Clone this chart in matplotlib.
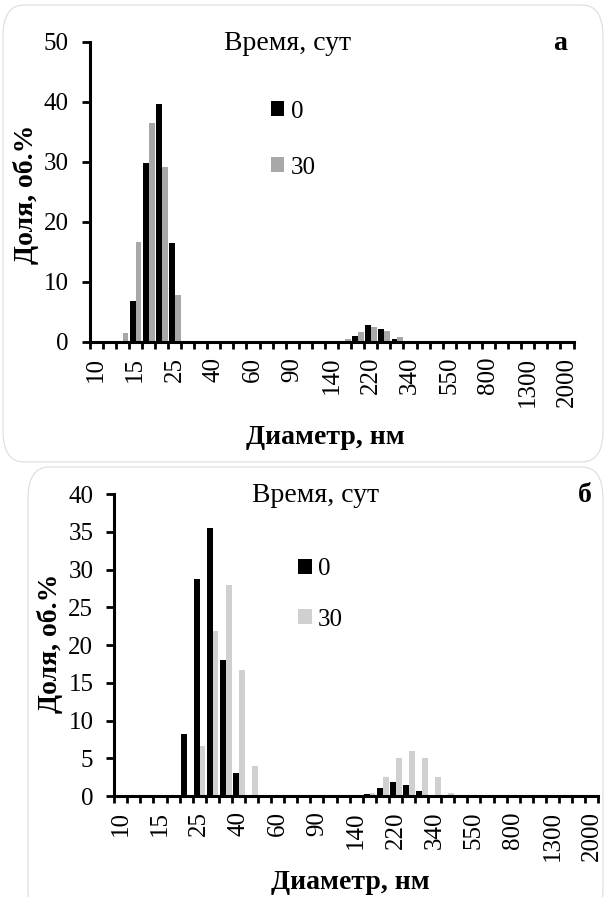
import numpy as np
import matplotlib.pyplot as plt
from matplotlib.patches import FancyBboxPatch

plt.rcParams['font.family'] = ['Liberation Serif', 'DejaVu Serif']

# size bins, nm (Zetasizer classes 10..2000), labels shown every 3rd bin
bins = ['10', '12', '14', '15', '18', '21', '25', '28', '33', '40', '44', '51',
        '60', '68', '79', '90', '106', '122', '140', '164', '190', '220', '255',
        '295', '340', '396', '459', '550', '615', '712', '800', '955', '1106',
        '1300', '1484', '1718', '2000']
n = len(bins)

# panel a, volume fraction %, days 0 and 30
a_day0 = {3: 6.7, 4: 29.8, 5: 39.6, 6: 16.4, 20: 1.0, 21: 2.7, 22: 2.1, 23: 0.4}
a_day30 = {2: 1.5, 3: 16.6, 4: 36.4, 5: 29.2, 6: 7.7, 19: 0.4, 20: 1.6,
           21: 2.5, 22: 1.8, 23: 0.8}
# panel b
b_day0 = {5: 8.2, 6: 28.8, 7: 35.5, 8: 18.0, 9: 3.0, 19: 0.3, 20: 1.1,
          21: 1.8, 22: 1.5, 23: 0.6}
b_day30 = {6: 6.6, 7: 21.8, 8: 27.9, 9: 16.7, 10: 4.0, 19: 0.4, 20: 2.5,
           21: 5.0, 22: 6.0, 23: 5.0, 24: 2.5, 25: 0.4}

series_names = ['0', '30']


def to_arr(d):
    v = np.zeros(n)
    for k, val in d.items():
        v[k] = val
    return v


fig = plt.figure(figsize=(6.05, 8.97), dpi=100)

# rounded panel frames (pixels: x0, y_top, x1, y_bottom)
for x0, yt, x1, yb in [(3, 5, 603, 462), (28, 467, 603, 920)]:
    fig.patches.append(FancyBboxPatch((x0 / 605, 1 - yb / 897), (x1 - x0) / 605,
                                      (yb - yt) / 897,
                                      boxstyle='round,pad=0,rounding_size=0.035',
                                      transform=fig.transFigure, fill=False,
                                      edgecolor='#dcdcdc', linewidth=0.8))


def panel(rect, d0, d30, gray, ymax, ystep, letter, title_x, leg_x, leg_y,
          lspace, ylab_x, ylab_y, xlab_y):
    ax = fig.add_axes(rect)
    x = np.arange(n)
    w = 0.44
    ax.bar(x - w / 2 + 0.03, to_arr(d0), w, color='black', label=series_names[0])
    ax.bar(x + w / 2 + 0.03, to_arr(d30), w, color=gray, label=series_names[1])
    ax.set_xlim(-0.5, n - 0.5)
    ax.set_ylim(0, ymax)
    ax.set_yticks(np.arange(0, ymax + 1, ystep))
    ax.set_xticks(x[::3])
    ax.set_xticklabels(bins[::3], rotation=90)
    ax.set_xticks(np.arange(-0.5, n, 1), minor=True)
    ax.tick_params(axis='x', which='major', length=0, pad=11, labelsize=18)
    ax.tick_params(axis='x', which='minor', length=5, width=2, direction='out')
    ax.tick_params(axis='y', length=6, width=2, direction='out', labelsize=18, pad=9)
    for s in ['top', 'right']:
        ax.spines[s].set_visible(False)
    for s in ['left', 'bottom']:
        ax.spines[s].set_linewidth(2.2)
    ax.set_xlabel('Диаметр, нм', fontsize=20, fontweight='bold')
    ax.set_ylabel('Доля, об.%', fontsize=20, fontweight='bold')
    ax.xaxis.set_label_coords(0.487, xlab_y)
    ax.yaxis.set_label_coords(ylab_x, ylab_y)
    ax.text(title_x, 0.995, 'Время, сут', transform=ax.transAxes, fontsize=20,
            ha='center', va='center')
    ax.legend(loc='center left', bbox_to_anchor=(leg_x, leg_y), frameon=False,
              fontsize=18, handlelength=0.55, handleheight=0.55,
              handletextpad=0.25, labelspacing=lspace, borderpad=0,
              borderaxespad=0)
    ax.text(0.972, 0.995, letter, transform=ax.transAxes, fontsize=20,
            fontweight='bold', ha='center', va='center')
    return ax


panel([89.5 / 605, (897 - 341.5) / 897, 484 / 605, 299.5 / 897],
      a_day0, a_day30, '#a8a8a8', 50, 10, 'а', 0.41, 0.374, 0.674, 1.35,
      -0.105, 0.49, -0.279)
panel([114.2 / 605, (897 - 796) / 897, 484 / 605, 302 / 897],
      b_day0, b_day30, '#d0d0d0', 40, 5, 'б', 0.416, 0.38, 0.668, 1.15,
      -0.105, 0.507, -0.245)

fig.savefig('out.png', dpi=100)
